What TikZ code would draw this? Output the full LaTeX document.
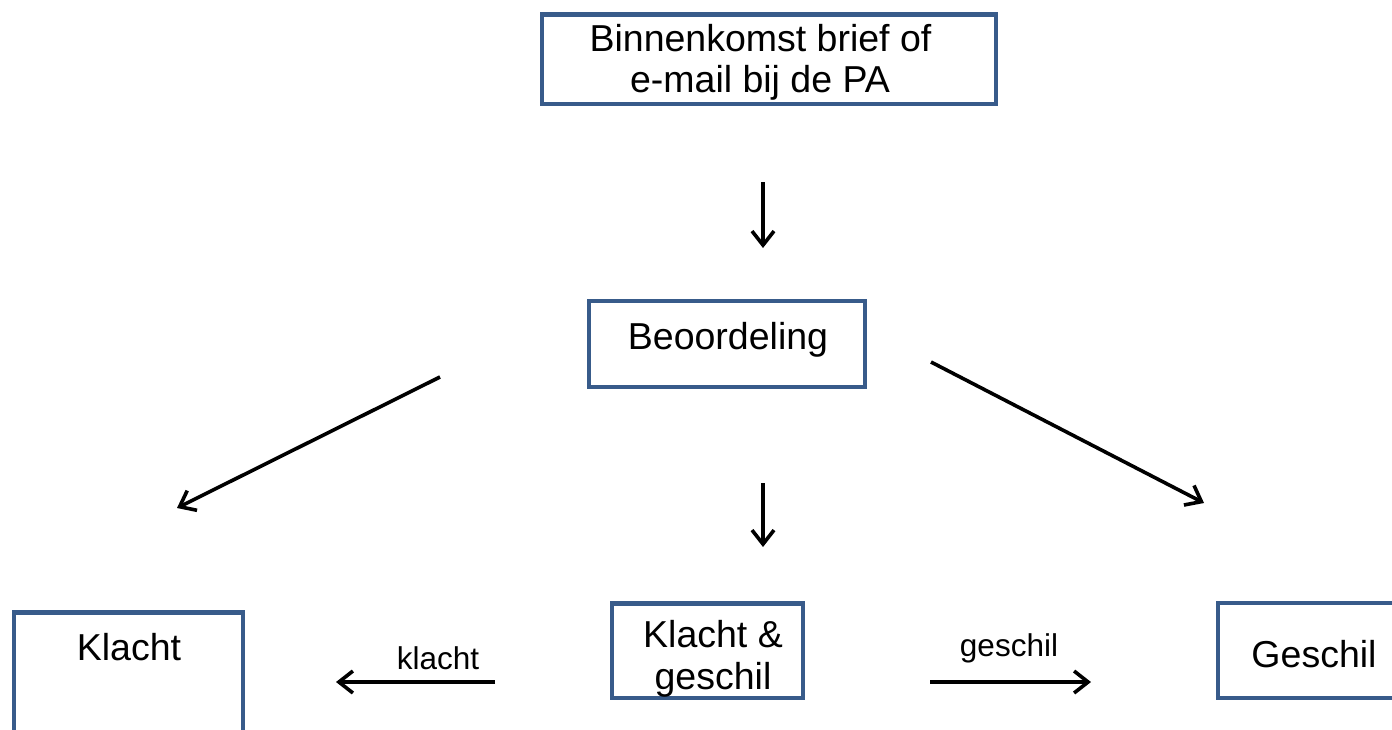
\documentclass[tikz,border=0pt]{standalone}
\usepackage{fontspec}
\setmainfont{Liberation Sans}
\usetikzlibrary{arrows.meta}
\definecolor{boxblue}{RGB}{56,91,138}
\tikzset{
  boxnode/.style={draw=boxblue, line width=4.5pt, rectangle, inner sep=0pt, fill=none},
  bigtext/.style={anchor=base, inner sep=0pt, font=\fontsize{37.5pt}{42pt}\selectfont},
  smalltext/.style={anchor=base, inner sep=0pt, font=\fontsize{31.5pt}{36pt}\selectfont},
  arr/.style={line width=3.6pt, -{Straight Barb[length=14pt,width=22pt,line width=3.6pt]}}
}
\begin{document}
\begin{tikzpicture}[x=1pt,y=-1pt]
\useasboundingbox (0,0) rectangle (1392,729);
\clip (0,0) rectangle (1392,729);
\fill[white] (0,0) rectangle (1392,729);
% boxes
\node[boxnode, minimum width=454pt, minimum height=89.5pt] (top) at (769,59.25) {};
\node[boxnode, minimum width=276pt, minimum height=86pt] (beo) at (727,344) {};
\node[boxnode, minimum width=229pt, minimum height=200pt] (klacht) at (128.5,712.5) {};
\node[boxnode, minimum width=191pt, minimum height=94.5pt] (both) at (707.5,650.75) {};
\node[boxnode, minimum width=220pt, minimum height=95pt] (geschil) at (1328,650.5) {};
% texts
\node[bigtext] (ttop1) at (760.5,51) {Binnenkomst brief of};
\node[bigtext] (ttop2) at (760,92) {e-mail bij de PA};
\node[bigtext] (tbeo) at (728,349) {Beoordeling};
\node[bigtext] (tklacht) at (129,660) {Klacht};
\node[bigtext] (tboth1) at (713,647) {Klacht \&};
\node[bigtext] (tboth2) at (713,689) {geschil};
\node[bigtext] (tgeschil) at (1314,667) {Geschil};
\node[smalltext] (lklacht) at (438,669) {klacht};
\node[smalltext] (lgeschil) at (1009,656) {geschil};
% arrow end points
\coordinate (a1s) at (763,182);
\coordinate (a1e) at (763,248);
\coordinate (a2s) at (763,483);
\coordinate (a2e) at (763,547);
\coordinate (a3s) at (440,377);
\coordinate (a3e) at (177,508);
\coordinate (a4s) at (931,362);
\coordinate (a4e) at (1204,503);
\coordinate (a5s) at (495,682);
\coordinate (a5e) at (336,682);
\coordinate (a6s) at (930,682);
\coordinate (a6e) at (1091,682);
\draw[arr] (a1s) -- (a1e);
\draw[arr] (a2s) -- (a2e);
\draw[arr] (a3s) -- (a3e);
\draw[arr] (a4s) -- (a4e);
\draw[arr] (a5s) -- (a5e);
\draw[arr] (a6s) -- (a6e);
\end{tikzpicture}
\end{document}
